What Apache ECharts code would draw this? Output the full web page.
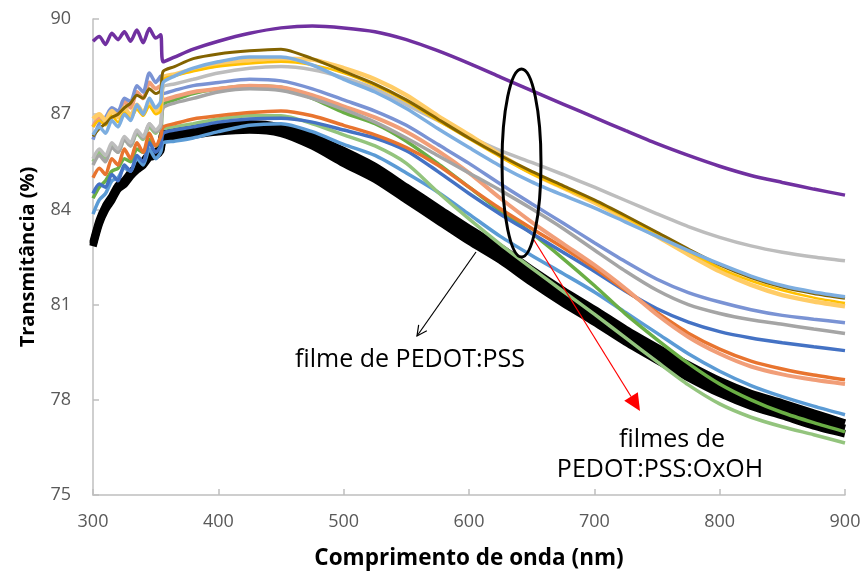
<!DOCTYPE html>
<html><head><meta charset="utf-8">
<script src="https://cdn.jsdelivr.net/npm/echarts@6/dist/echarts.min.js"></script>
<style>html,body{margin:0;padding:0;background:#fff}#chart{width:865px;height:576px}</style>
</head><body><div id="chart"></div>
<script>
// wavelength grid (nm)
const wavelength = [300,305,310,315,320,325,330,335,340,345,350,354,
  356,365,380,400,425,450,475,500,525,550,575,600,625,650,675,700,725,750,775,800,825,850,875,900];

// transmittance (%) per sample
const purple     = [89.30,89.45,89.20,89.55,89.35,89.60,89.30,89.65,89.25,89.70,89.40,89.50,
  88.65,88.80,89.05,89.30,89.55,89.72,89.78,89.72,89.60,89.35,89.00,88.60,88.17,87.74,87.32,86.90,86.48,86.07,85.70,85.36,85.07,84.85,84.64,84.45];
const darkGold   = [86.30,86.55,86.70,86.90,87.00,87.20,87.35,87.60,87.50,87.80,87.65,87.75,
  88.35,88.50,88.75,88.90,89.00,89.05,88.75,88.35,87.95,87.45,86.85,86.25,85.70,85.20,84.75,84.30,83.80,83.28,82.75,82.25,81.85,81.55,81.35,81.20];
const gold       = [86.60,86.80,86.65,86.95,86.75,87.05,86.85,87.15,86.95,87.25,87.00,87.10,
  88.10,88.20,88.35,88.50,88.60,88.65,88.55,88.30,87.90,87.40,86.80,86.22,85.65,85.12,84.68,84.25,83.75,83.22,82.68,82.15,81.75,81.45,81.22,81.05];
const lightGold  = [86.85,87.00,86.80,87.10,86.90,87.20,86.95,87.30,87.05,87.35,87.10,87.20,
  88.15,88.25,88.40,88.55,88.70,88.75,88.72,88.45,88.10,87.60,86.95,86.35,85.72,85.15,84.68,84.22,83.70,83.15,82.58,82.05,81.62,81.30,81.10,80.95];
const lightBlue  = [86.35,86.60,86.40,86.80,86.60,87.00,86.80,87.30,87.00,87.50,87.20,87.40,
  88.00,88.20,88.45,88.65,88.80,88.80,88.55,88.10,87.70,87.18,86.55,85.95,85.37,84.87,84.45,84.05,83.60,83.15,82.70,82.28,81.90,81.60,81.40,81.25];
const lightGray  = [85.60,85.90,85.70,86.10,85.90,86.30,86.10,86.50,86.30,86.70,86.50,86.70,
  87.85,87.95,88.10,88.30,88.45,88.50,88.40,88.15,87.80,87.30,86.80,86.30,85.85,85.48,85.10,84.70,84.28,83.86,83.46,83.12,82.85,82.65,82.50,82.38];
const periwinkle = [86.20,86.70,86.90,87.20,87.10,87.50,87.40,87.90,87.70,88.30,88.00,88.20,
  87.65,87.75,87.90,88.00,88.10,88.05,87.80,87.45,87.10,86.65,86.05,85.45,84.80,84.18,83.57,82.95,82.35,81.80,81.38,81.08,80.84,80.66,80.54,80.43];
const gray       = [85.40,85.70,85.50,85.95,85.80,86.20,86.00,86.45,86.25,86.70,86.45,86.60,
  87.20,87.35,87.50,87.70,87.80,87.75,87.50,87.15,86.75,86.25,85.70,85.15,84.60,84.02,83.40,82.72,82.05,81.45,81.00,80.72,80.52,80.38,80.23,80.09];
const lightOrange= [86.60,86.90,86.70,87.10,87.00,87.40,87.20,87.70,87.50,88.00,87.80,87.90,
  87.45,87.55,87.70,87.80,87.90,87.85,87.60,87.25,86.90,86.45,85.85,85.15,84.35,83.60,82.92,82.25,81.50,80.68,79.98,79.45,79.05,78.80,78.63,78.50];
const orange     = [85.00,85.30,85.10,85.60,85.40,85.90,85.60,86.10,85.80,86.40,86.00,86.30,
  86.60,86.70,86.85,86.95,87.05,87.10,86.95,86.65,86.35,85.95,85.40,84.70,84.02,83.40,82.80,82.15,81.45,80.75,80.10,79.60,79.22,78.97,78.78,78.63];
const blue       = [84.50,84.80,84.70,85.10,84.90,85.40,85.20,85.70,85.50,86.10,85.80,86.00,
  86.40,86.50,86.60,86.75,86.85,86.87,86.75,86.50,86.25,85.85,85.20,84.50,83.85,83.25,82.65,82.05,81.42,80.87,80.45,80.15,79.95,79.80,79.67,79.55];
const green      = [84.35,84.70,84.90,85.20,85.30,85.60,85.50,85.90,85.80,86.20,86.00,86.20,
  87.30,87.45,87.65,87.80,87.90,87.85,87.50,87.05,86.70,86.15,85.45,84.70,83.95,83.25,82.45,81.60,80.70,79.90,79.15,78.50,78.00,77.60,77.28,76.99];
const lightGreen = [85.50,85.80,85.60,86.00,85.80,86.20,86.00,86.40,86.20,86.60,86.40,86.60,
  86.55,86.60,86.70,86.85,86.95,86.95,86.70,86.35,86.00,85.45,84.55,83.70,82.90,82.15,81.42,80.70,79.95,79.20,78.47,77.87,77.45,77.15,76.90,76.64];
const lightBlue2 = [83.85,84.30,84.50,84.90,85.00,85.30,85.20,85.60,85.40,85.90,85.60,85.80,
  86.10,86.15,86.25,86.45,86.65,86.70,86.45,86.05,85.70,85.15,84.55,83.85,83.15,82.55,81.98,81.40,80.75,80.10,79.45,78.90,78.45,78.10,77.80,77.53];
// PEDOT:PSS reference film (thick black band: lower and upper edges)
const pedotLow   = [82.84,83.54,83.99,84.29,84.64,84.79,85.04,85.24,85.39,85.64,85.69,85.84,
  86.20,86.30,86.35,86.45,86.50,86.40,86.00,85.45,84.95,84.30,83.65,83.00,82.40,81.70,81.05,80.45,79.82,79.25,78.70,78.20,77.80,77.50,77.18,76.93];
const pedotHigh  = [82.96,83.66,84.11,84.41,84.76,84.91,85.16,85.36,85.51,85.76,85.81,85.96,
  86.40,86.50,86.55,86.65,86.70,86.60,86.30,85.85,85.35,84.70,84.05,83.40,82.80,82.10,81.45,80.85,80.22,79.65,79.10,78.60,78.20,77.90,77.58,77.27];

const samples = [
  {d: lightBlue2, c:'#5B9BD5', w:3.5},
  {d: lightGreen, c:'#93C47D', w:3.5},
  {d: green, c:'#6AAE45', w:3.5},
  {d: blue, c:'#4472C4', w:3.5},
  {d: orange, c:'#E8742F', w:3.5},
  {d: lightOrange, c:'#F19E78', w:4},
  {d: gray, c:'#A5A5A5', w:3.5},
  {d: periwinkle, c:'#7A93D4', w:3.5},
  {d: lightGray, c:'#BDBDBD', w:3.5},
  {d: lightGold, c:'#FFCC66', w:4.5},
  {d: gold, c:'#FFC000', w:2.5},
  {d: darkGold, c:'#836300', w:3},
  {d: lightBlue, c:'#7DAEE0', w:3.5},
  {d: purple, c:'#7030A0', w:3.5}
];

const pairs = arr => arr.map((v,i)=>[wavelength[i], v]);
const FONT = 'Open Sans';
const SMOOTH = 0.25;

const pedotMid = pedotLow.map((v,i)=>(v + pedotHigh[i]) / 2);
const series = [pedotLow, pedotMid, pedotHigh].map(arr => ({
  type:'line', data: pairs(arr), symbol:'none', smooth:SMOOTH,
  lineStyle:{color:'#000', width:7.5}, z:2, silent:true}));
samples.forEach((s,k)=>series.push({type:'line', data:pairs(s.d), symbol:'none', smooth:SMOOTH,
  lineStyle:{color:s.c, width:s.w}, z:3+k, silent:true}));

function arrow(x1,y1,x2,y2,color,filled){
  const dx=x2-x1, dy=y2-y1, L=Math.hypot(dx,dy), ux=dx/L, uy=dy/L, nx=-uy, ny=ux;
  const hl = filled?17:10, hw = filled?8:5;
  const bx=x2-ux*hl, by=y2-uy*hl;
  const els=[{type:'line', shape:{x1,y1,x2:filled?bx:x2,y2:filled?by:y2}, style:{stroke:color,lineWidth:1.2}, z:50}];
  if(filled) els.push({type:'polygon', shape:{points:[[x2,y2],[bx+nx*hw,by+ny*hw],[bx-nx*hw,by-ny*hw]]}, style:{fill:color}, z:50});
  else els.push({type:'polyline', shape:{points:[[bx+nx*hw,by+ny*hw],[x2,y2],[bx-nx*hw,by-ny*hw]]}, style:{stroke:color,lineWidth:1.2,fill:'none'}, z:50});
  return els;
}

const chart = echarts.init(document.getElementById('chart'), null, {renderer:'canvas'});
chart.setOption({
  animation:false,
  backgroundColor:'#fff',
  grid:{left:93, right:20, top:19, bottom:81, containLabel:false},
  xAxis:{type:'value', min:300, max:900, interval:100,
    name:'Comprimento de onda (nm)', nameLocation:'middle', nameGap:52,
    nameTextStyle:{fontFamily:FONT, fontWeight:'bold', fontSize:22.5, color:'#000'},
    axisLine:{show:true, lineStyle:{color:'#BFBFBF', width:1.5}},
    axisTick:{show:true, inside:true, length:6, lineStyle:{color:'#BFBFBF', width:1.5}},
    axisLabel:{fontFamily:FONT, fontSize:18, color:'#595959', margin:18},
    splitLine:{show:false}},
  yAxis:{type:'value', min:75, max:90, interval:3,
    name:'Transmitância (%)', nameLocation:'middle', nameGap:55, nameRotate:90,
    nameTextStyle:{fontFamily:FONT, fontWeight:'bold', fontSize:20, color:'#000'},
    axisLine:{show:true, lineStyle:{color:'#BFBFBF', width:1.5}},
    axisTick:{show:true, inside:true, length:6, lineStyle:{color:'#BFBFBF', width:1.5}},
    axisLabel:{fontFamily:FONT, fontSize:18, color:'#595959', margin:22},
    splitLine:{show:false}},
  series,
  graphic:[
    {type:'ellipse', shape:{cx:521.5, cy:163, rx:19.5, ry:94}, style:{fill:'none', stroke:'#000', lineWidth:3}, z:60},
    ...arrow(476,252,417,336,'#000',false),
    ...arrow(534,240,640,411,'#FF0000',true),
    {type:'text', x:410, y:360, style:{text:'filme de PEDOT:PSS', font:'25px "Open Sans"', fill:'#000', textAlign:'center', textVerticalAlign:'middle'}, z:60},
    {type:'text', x:672, y:440, style:{text:'filmes de', font:'25px "Open Sans"', fill:'#000', textAlign:'center', textVerticalAlign:'middle'}, z:60},
    {type:'text', x:660, y:470, style:{text:'PEDOT:PSS:OxOH', font:'25px "Open Sans"', fill:'#000', textAlign:'center', textVerticalAlign:'middle'}, z:60}
  ]
});
</script></body></html>
